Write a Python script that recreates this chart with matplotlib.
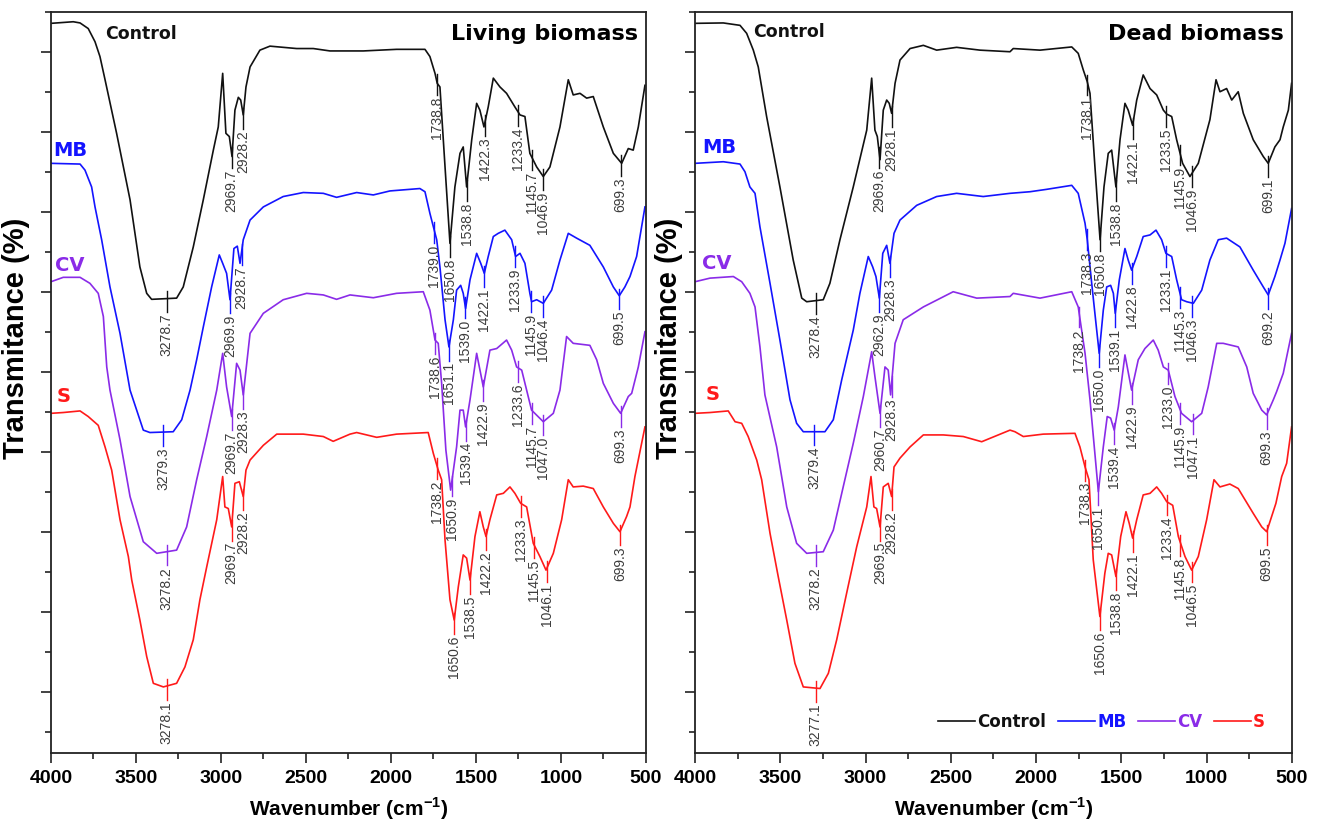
import numpy as np
import matplotlib
matplotlib.use("Agg")
import matplotlib.pyplot as plt
from matplotlib import font_manager
from matplotlib.ticker import MultipleLocator

# ---- living biomass (left panel) ----
living_control_wn = [4000, 3869, 3829, 3781, 3741, 3712, 3682, 3614, 3535, 3477,
                     3437, 3408, 3261, 3222, 3163, 3104, 3045, 3016, 2990, 2971,
                     2951, 2935, 2918, 2898, 2884, 2869, 2853, 2829, 2771, 2712,
                     2555, 2457, 2359, 2241, 2163, 1967, 1800, 1771, 1741, 1728,
                     1712, 1682, 1653, 1624, 1594, 1575, 1555, 1525, 1496, 1477,
                     1453, 1428, 1398, 1359, 1320, 1271, 1241, 1212, 1183, 1143,
                     1104, 1065, 1006, 957, 928, 888, 849, 810, 751, 692,
                     643, 604, 575, 545, 506]
living_control_t = [83.55, 83.75, 83.6, 82.9, 81.25, 79.4, 76.5, 69.8, 61.5, 53.1,
                    49.8, 49.05, 49.2, 50.6, 55.6, 61.5, 67.7, 70.6, 77.3, 69.8,
                    69.4, 66.9, 72.7, 74.3, 73.96, 72.1, 75.6, 78.1, 80.2, 80.7,
                    80.4, 80.4, 80.1, 80.1, 80.1, 80.3, 80.3, 79.4, 77.3, 76.05,
                    75.6, 65.6, 56.05, 63.1, 67.3, 68.1, 63.1, 69.0, 73.55, 72.7,
                    70.6, 73.1, 76.7, 75.6, 74.8, 73.1, 72.1, 71.9, 67.3, 65.6,
                    64.4, 65.6, 70.6, 76.5, 74.6, 74.8, 74.2, 74.4, 70.6, 67.3,
                    66.05, 67.9, 67.7, 70.6, 75.8]
living_control_tags = ["3278.7", "2969.7", "2928.2", "1738.8", "1650.8", "1538.8",
                       "1422.3", "1233.4", "1145.7", "1046.9", "699.3"]
living_control_tag_wn = [3319, 2937, 2869, 1731, 1653, 1555, 1447, 1251, 1173, 1104, 649]

living_mb_wn = [4000, 3829, 3800, 3761, 3741, 3702, 3653, 3594, 3535, 3457,
                3418, 3281, 3231, 3182, 3143, 3104, 3055, 3010, 2990, 2967,
                2947, 2924, 2904, 2888, 2869, 2829, 2751, 2634, 2516, 2398,
                2320, 2202, 2104, 2006, 1830, 1800, 1771, 1731, 1712, 1682,
                1659, 1633, 1614, 1590, 1575, 1561, 1535, 1496, 1472, 1451,
                1428, 1398, 1369, 1330, 1290, 1267, 1241, 1212, 1183, 1173,
                1143, 1104, 1055, 1006, 957, 908, 830, 751, 692, 657,
                624, 594, 555, 506]
living_mb_t = [66.05, 65.96, 65.2, 63.1, 60.6, 56.5, 50.6, 44.8, 37.7, 32.7,
               32.4, 32.5, 34.0, 37.7, 41.5, 45.6, 50.6, 54.6, 53.55, 52.3,
               49.0, 55.4, 55.7, 53.55, 56.5, 58.96, 60.6, 61.9, 62.4, 62.3,
               61.8, 62.4, 62.1, 62.6, 62.9, 62.5, 59.8, 56.5, 53.1, 46.5,
               43.1, 46.5, 50.2, 50.8, 49.8, 47.9, 51.5, 54.8, 53.55, 52.3,
               54.4, 56.9, 57.3, 57.7, 56.5, 54.4, 54.8, 53.55, 49.8, 48.75,
               49.0, 48.55, 50.2, 53.96, 57.3, 56.7, 55.8, 53.1, 50.6, 49.5,
               50.6, 51.9, 54.4, 60.6]
living_mb_tags = ["3279.3", "2969.9", "2928.7", "1739.0", "1651.1", "1539.0",
                  "1422.1", "1233.9", "1145.9", "1046.4", "699.5"]
living_mb_tag_wn = [3339, 2947, 2878, 1747, 1659, 1565, 1451, 1271, 1177, 1104, 657]

living_cv_wn = [4000, 3928, 3829, 3771, 3722, 3692, 3672, 3653, 3594, 3535,
                3457, 3378, 3261, 3202, 3143, 3084, 3025, 2990, 2967, 2937,
                2908, 2888, 2869, 2829, 2751, 2634, 2496, 2398, 2320, 2241,
                2104, 1967, 1810, 1771, 1741, 1722, 1702, 1677, 1649, 1614,
                1594, 1575, 1561, 1535, 1496, 1457, 1418, 1378, 1320, 1290,
                1261, 1231, 1202, 1173, 1104, 1045, 1006, 967, 928, 830,
                790, 751, 692, 649, 604, 584, 545, 506]
living_cv_t = [51.25, 51.8, 51.8, 51.05, 49.8, 46.9, 40.6, 37.7, 31.5, 24.4,
               18.75, 17.3, 17.7, 20.6, 26.5, 31.9, 37.7, 42.3, 38.1, 34.4,
               41.05, 40.2, 37.1, 44.8, 47.3, 49.0, 49.8, 49.6, 49.05, 49.6,
               49.25, 49.8, 50.0, 47.7, 43.96, 43.55, 38.55, 30.2, 25.2, 30.6,
               35.2, 35.2, 33.1, 36.5, 42.3, 38.1, 42.7, 42.9, 43.96, 42.7,
               40.6, 40.2, 37.7, 35.2, 33.75, 34.8, 37.7, 44.4, 43.55, 43.3,
               41.5, 38.55, 36.05, 34.8, 36.9, 37.3, 40.6, 45.0]
living_cv_tags = ["3278.2", "2969.7", "2928.3", "1738.6", "1650.9", "1539.4",
                  "1422.9", "1233.6", "1145.7", "1047.0", "699.3"]
living_cv_tag_wn = [3319, 2937, 2869, 1741, 1643, 1561, 1457, 1251, 1173, 1104, 649]

living_s_wn = [4000, 3928, 3829, 3781, 3722, 3682, 3643, 3594, 3545, 3525,
               3477, 3437, 3398, 3339, 3261, 3212, 3163, 3124, 3084, 3025,
               2990, 2977, 2957, 2937, 2918, 2892, 2869, 2853, 2829, 2751,
               2672, 2516, 2398, 2340, 2241, 2202, 2084, 1967, 1781, 1751,
               1722, 1702, 1682, 1653, 1628, 1604, 1575, 1555, 1535, 1506,
               1477, 1457, 1441, 1418, 1378, 1339, 1300, 1271, 1237, 1202,
               1163, 1124, 1088, 1045, 996, 957, 928, 869, 810, 751,
               692, 653, 614, 594, 565, 506]
living_s_t = [34.8, 34.9, 35.1, 34.4, 33.3, 30.6, 27.7, 21.5, 16.9, 13.96,
              8.96, 4.4, 1.05, 0.6, 1.05, 3.1, 6.5, 11.5, 15.6, 21.5,
              26.9, 23.1, 22.9, 20.6, 26.05, 26.25, 24.4, 27.7, 28.96, 30.8,
              32.2, 32.2, 31.9, 31.3, 32.2, 32.4, 31.8, 32.2, 32.4, 29.8,
              27.7, 26.5, 18.96, 11.5, 8.96, 13.1, 17.1, 16.7, 13.96, 19.4,
              22.5, 20.6, 19.4, 21.5, 24.6, 24.8, 25.6, 24.8, 23.55, 23.1,
              18.55, 16.9, 15.2, 17.3, 21.5, 26.5, 25.6, 25.7, 25.4, 23.1,
              21.05, 20.0, 21.9, 23.1, 26.9, 33.1]
living_s_tags = ["3278.1", "2969.7", "2928.2", "1738.2", "1650.6", "1538.5",
                 "1422.2", "1233.3", "1145.5", "1046.1", "699.3"]
living_s_tag_wn = [3319, 2937, 2869, 1731, 1628, 1535, 1441, 1237, 1159, 1084, 653]

# ---- dead biomass (right panel) ----
dead_control_wn = [4000, 3834, 3736, 3697, 3658, 3629, 3580, 3502, 3424, 3374,
                   3345, 3248, 3209, 3150, 3072, 2993, 2964, 2945, 2931, 2915,
                   2896, 2876, 2861, 2847, 2827, 2798, 2739, 2661, 2583, 2466,
                   2329, 2153, 2134, 1977, 1791, 1753, 1723, 1700, 1684, 1655,
                   1625, 1602, 1577, 1557, 1532, 1508, 1479, 1460, 1434, 1410,
                   1372, 1332, 1293, 1254, 1234, 1205, 1176, 1141, 1098, 1049,
                   981, 945, 922, 883, 853, 815, 785, 727, 668, 639,
                   600, 570, 551, 521, 502]
dead_control_t = [83.55, 83.6, 83.3, 82.3, 80.2, 78.1, 71.9, 63.1, 53.96, 49.2,
                  48.75, 49.0, 51.05, 56.5, 63.1, 70.2, 76.7, 70.2, 69.4, 66.5,
                  72.7, 73.96, 73.55, 72.3, 76.05, 78.96, 80.4, 80.8, 80.2, 80.55,
                  80.2, 80.0, 80.4, 80.2, 80.6, 79.8, 77.7, 76.25, 74.8, 65.6,
                  56.5, 63.1, 67.3, 67.7, 63.1, 69.0, 73.55, 72.7, 70.8, 73.96,
                  77.1, 75.4, 74.6, 72.7, 72.2, 71.9, 69.0, 66.05, 64.4, 66.05,
                  71.5, 76.5, 75.0, 75.4, 73.96, 75.0, 72.3, 69.0, 66.9, 66.05,
                  68.1, 69.0, 70.6, 72.7, 76.05]
dead_control_tags = ["3278.4", "2969.6", "2928.1", "1738.1", "1650.8", "1538.8",
                     "1422.1", "1233.5", "1145.9", "1046.9", "699.1"]
dead_control_tag_wn = [3291, 2919, 2847, 1700, 1626, 1532, 1434, 1239, 1158, 1086, 639]

dead_mb_wn = [4000, 3834, 3736, 3707, 3678, 3648, 3619, 3560, 3502, 3443,
              3404, 3365, 3238, 3189, 3140, 3072, 3033, 2984, 2958, 2939,
              2919, 2899, 2876, 2857, 2833, 2798, 2700, 2583, 2466, 2310,
              2153, 2036, 1938, 1791, 1753, 1713, 1700, 1674, 1649, 1630,
              1606, 1586, 1563, 1547, 1536, 1512, 1479, 1460, 1440, 1410,
              1372, 1332, 1297, 1264, 1239, 1205, 1176, 1147, 1117, 1078,
              1029, 981, 932, 883, 805, 727, 668, 639, 600, 570,
              541, 502]
dead_mb_t = [66.05, 66.25, 65.96, 65.0, 63.1, 62.3, 58.1, 51.05, 43.96, 36.5,
             33.55, 32.5, 32.5, 34.0, 38.96, 45.2, 49.8, 54.4, 53.1, 51.9,
             49.2, 54.8, 55.8, 53.55, 57.3, 58.96, 60.8, 61.9, 62.3, 61.9,
             62.3, 62.5, 62.8, 63.3, 62.3, 58.55, 56.5, 51.05, 46.05, 42.3,
             47.7, 50.6, 50.8, 49.8, 47.3, 51.5, 55.4, 53.96, 52.7, 54.4,
             56.9, 57.1, 57.7, 56.5, 54.8, 54.4, 51.5, 49.0, 48.75, 48.55,
             50.2, 53.96, 56.5, 56.7, 55.6, 52.7, 50.6, 49.6, 51.9, 53.96,
             56.05, 60.4]
dead_mb_tags = ["3279.4", "2962.9", "2928.3", "1738.3", "1650.0", "1539.1",
                "1422.8", "1233.1", "1145.3", "1046.3", "699.2"]
dead_mb_tag_wn = [3302, 2919, 2857, 1703, 1630, 1536, 1440, 1239, 1155, 1084, 639]

dead_cv_wn = [4000, 3912, 3775, 3726, 3678, 3648, 3619, 3590, 3521, 3462,
              3404, 3345, 3248, 3189, 3131, 3072, 3013, 2964, 2945, 2915,
              2886, 2867, 2853, 2827, 2779, 2661, 2486, 2348, 2153, 2134,
              1977, 1791, 1753, 1713, 1684, 1635, 1606, 1583, 1563, 1542,
              1518, 1479, 1440, 1401, 1362, 1313, 1284, 1254, 1225, 1186,
              1147, 1088, 1029, 991, 941, 903, 815, 765, 727, 677,
              648, 609, 590, 551, 502]
dead_cv_t = [51.25, 51.7, 51.9, 51.25, 49.8, 48.1, 43.1, 37.1, 30.6, 23.1,
             18.55, 17.3, 17.5, 20.2, 25.6, 31.05, 36.9, 42.5, 39.4, 34.8,
             40.6, 40.2, 37.1, 43.55, 46.5, 48.1, 50.0, 49.2, 49.4, 49.8,
             49.2, 50.0, 48.1, 42.3, 36.5, 25.0, 30.6, 34.4, 34.2, 32.7,
             35.6, 42.1, 37.7, 41.5, 42.9, 43.96, 42.7, 40.6, 40.2, 36.9,
             34.8, 33.75, 34.8, 38.1, 43.55, 43.55, 43.1, 40.6, 37.3, 35.2,
             34.6, 36.5, 37.5, 39.8, 44.8]
dead_cv_tags = ["3278.2", "2960.7", "2928.3", "1738.2", "1650.1", "1539.4",
                "1422.9", "1233.0", "1145.9", "1047.1", "699.3"]
dead_cv_tag_wn = [3291, 2915, 2847, 1747, 1635, 1542, 1440, 1225, 1154, 1082, 648]

dead_s_wn = [4000, 3912, 3805, 3765, 3726, 3688, 3638, 3609, 3560, 3512,
             3462, 3414, 3365, 3267, 3218, 3169, 3111, 3052, 2993, 2968,
             2951, 2935, 2915, 2896, 2867, 2847, 2833, 2798, 2739, 2661,
             2544, 2427, 2319, 2153, 2124, 2075, 1958, 1772, 1743, 1713,
             1690, 1665, 1626, 1597, 1577, 1557, 1532, 1504, 1473, 1454,
             1434, 1410, 1372, 1332, 1293, 1264, 1234, 1199, 1166, 1127,
             1088, 1049, 1000, 957, 922, 864, 815, 727, 677, 648,
             613, 594, 560, 531, 502]
dead_s_t = [34.8, 34.9, 35.1, 33.75, 33.55, 31.9, 28.96, 26.5, 19.8, 14.4,
            8.96, 3.55, 0.6, 0.4, 2.3, 6.5, 12.3, 18.1, 23.1, 26.9,
            23.1, 22.9, 20.6, 25.6, 26.05, 24.4, 28.1, 29.2, 30.6, 32.1,
            32.1, 31.9, 31.25, 32.7, 32.5, 31.9, 32.2, 32.3, 30.6, 28.1,
            26.5, 16.5, 9.4, 14.8, 17.3, 17.1, 14.4, 19.4, 22.5, 21.05,
            19.2, 21.5, 24.6, 24.8, 25.6, 24.8, 23.75, 23.3, 19.4, 16.9,
            15.2, 16.9, 21.5, 26.5, 25.6, 25.96, 25.4, 22.3, 20.6, 20.0,
            22.3, 23.55, 26.9, 28.55, 33.1]
dead_s_tags = ["3277.1", "2969.5", "2928.2", "1738.3", "1650.6", "1538.8",
               "1422.1", "1233.4", "1145.8", "1046.5", "699.5"]
dead_s_tag_wn = [3291, 2915, 2847, 1713, 1626, 1532, 1434, 1234, 1155, 1084, 648]

names = ["Control", "MB", "CV", "S"]
colors = ["#111111", "#1414ff", "#8a2be8", "#ff1a1a"]

available = {f.name for f in font_manager.fontManager.ttflist}
if "Liberation Sans Narrow" in available:
    peak_font, peak_fs = "Liberation Sans Narrow", 11.5
else:
    peak_font, peak_fs = "Liberation Sans", 10
axis_font = "Liberation Sans"
tag_font = "DejaVu Sans"

plt.rcParams["mathtext.fontset"] = "custom"
plt.rcParams["mathtext.rm"] = "Liberation Sans:bold"
plt.rcParams["mathtext.bf"] = "Liberation Sans:bold"

living = [
    (living_control_wn, living_control_t, living_control_tags, living_control_tag_wn),
    (living_mb_wn, living_mb_t, living_mb_tags, living_mb_tag_wn),
    (living_cv_wn, living_cv_t, living_cv_tags, living_cv_tag_wn),
    (living_s_wn, living_s_t, living_s_tags, living_s_tag_wn),
]
dead = [
    (dead_control_wn, dead_control_t, dead_control_tags, dead_control_tag_wn),
    (dead_mb_wn, dead_mb_t, dead_mb_tags, dead_mb_tag_wn),
    (dead_cv_wn, dead_cv_t, dead_cv_tags, dead_cv_tag_wn),
    (dead_s_wn, dead_s_t, dead_s_tags, dead_s_tag_wn),
]


def draw_panel(ax, series, title, name_pos, ylab_x):
    for name, color, (wn, t, tags, tag_wn) in zip(names, colors, series):
        ax.plot(wn, t, color=color, lw=1.2, label=name, zorder=2)
        wn_a = np.asarray(wn, dtype=float)[::-1]
        t_a = np.asarray(t, dtype=float)[::-1]
        for tag, x in zip(tags, tag_wn):
            yc = np.interp(x, wn_a, t_a)
            ax.plot([x, x], [yc + 0.9, yc - 1.7], color=color, lw=1.0, zorder=3)
            ax.text(x, yc - 1.9, tag, rotation=90, ha="center", va="top",
                    fontsize=peak_fs, family=peak_font, color="#3c3c3c", zorder=4)

    # curve names inside the plot
    for name, color, (px, py) in zip(names, colors, name_pos):
        fs = 12.5 if name == "Control" else 14
        ax.text(px, py, name, transform=ax.transAxes, ha="left", va="center",
                fontsize=fs, fontweight="bold", family=tag_font, color=color)
    ax.text(0.986, 0.970, title, transform=ax.transAxes, ha="right", va="center",
            fontsize=16, fontweight="bold", family=tag_font, color="black")

    ax.set_xlim(4000, 500)
    ax.set_ylim(-7.7, 85)
    ax.xaxis.set_major_locator(MultipleLocator(500))
    ax.xaxis.set_minor_locator(MultipleLocator(250))
    ax.yaxis.set_major_locator(MultipleLocator(10))
    ax.yaxis.set_minor_locator(MultipleLocator(5))
    ax.tick_params(which="both", direction="out", top=False, right=False,
                   labelleft=False, width=1.2, color="#222222")
    ax.tick_params(which="major", length=7, pad=5)
    ax.tick_params(which="minor", length=4)
    for lab in ax.get_xticklabels():
        lab.set_family(axis_font)
        lab.set_fontweight("bold")
        lab.set_fontsize(14)
    for sp in ax.spines.values():
        sp.set_linewidth(1.3)
        sp.set_color("#222222")

    ax.set_xlabel(r"Wavenumber (cm$^{\mathbf{-1}}$)", family=axis_font,
                  fontweight="bold", fontsize=15, labelpad=6)
    ax.set_ylabel("Transmitance (%)", family=axis_font, fontweight="bold",
                  fontsize=21)
    ax.yaxis.set_label_coords(ylab_x, 0.56)


fig = plt.figure(figsize=(13.21, 8.27), dpi=100)
ax1 = fig.add_axes([0.0386, 0.0891, 0.4504, 0.8967])
ax2 = fig.add_axes([0.5261, 0.0891, 0.4519, 0.8967])

draw_panel(ax1, living, "Living biomass",
           [(0.091, 0.970), (0.004, 0.8135), (0.007, 0.658), (0.010, 0.4805)], -0.036)
draw_panel(ax2, dead, "Dead biomass",
           [(0.097, 0.9726), (0.012, 0.8176), (0.012, 0.661), (0.017, 0.4832)], -0.020)

leg = ax2.legend(loc="center right", bbox_to_anchor=(0.955, 0.0426), ncol=4,
                 frameon=False, handlelength=2.2, handletextpad=0.15,
                 columnspacing=0.7, borderpad=0, borderaxespad=0,
                 prop={"family": tag_font, "weight": "bold", "size": 12})
for txt, c in zip(leg.get_texts(), colors):
    txt.set_color(c)

fig.savefig("out.png", dpi=100)
